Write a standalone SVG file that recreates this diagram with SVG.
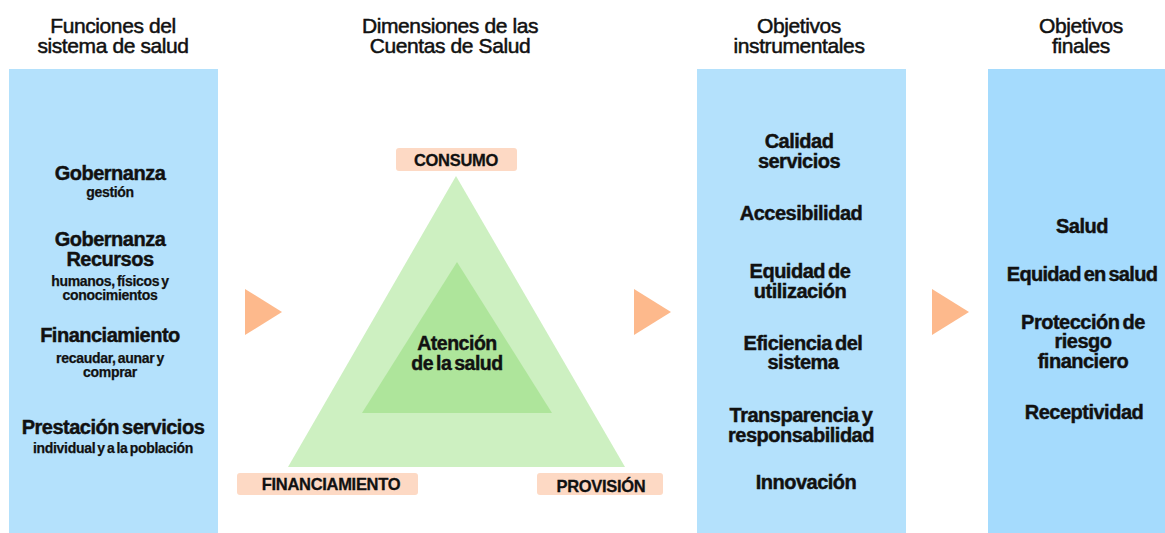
<svg xmlns="http://www.w3.org/2000/svg" width="1165" height="533" viewBox="0 0 1165 533">
<style>
.hd{font-family:"Liberation Sans",Arial,sans-serif;font-size:21px;fill:#111;stroke:#111;stroke-width:0.5;text-anchor:middle;letter-spacing:-0.4px}
.b{font-family:"Liberation Sans",Arial,sans-serif;font-weight:bold;font-size:20px;fill:#111;stroke:#111;stroke-width:0.45;text-anchor:middle;letter-spacing:-0.5px;word-spacing:-2px}
.s{font-family:"Liberation Sans",Arial,sans-serif;font-weight:bold;font-size:14px;fill:#111;stroke:#111;stroke-width:0.25;text-anchor:middle;letter-spacing:-0.3px;word-spacing:-1.5px}
.lb{font-family:"Liberation Sans",Arial,sans-serif;font-weight:bold;font-size:16.5px;fill:#111;stroke:#111;stroke-width:0.3;text-anchor:middle;letter-spacing:-0.3px}
.panel{fill:#b4e1fc}
.panel2{fill:#a5dbfd}
.tag{fill:#fdd9c4}
.arr{fill:#fdb98c}
</style>
<rect width="1165" height="533" fill="#ffffff"/>

<g id="header-funciones">
<text class="hd" x="113" y="33">Funciones del</text>
<text class="hd" x="113" y="53">sistema de salud</text>
</g>
<g id="header-dimensiones">
<text class="hd" x="450" y="33">Dimensiones de las</text>
<text class="hd" x="450" y="53">Cuentas de Salud</text>
</g>
<g id="header-instrumentales">
<text class="hd" x="799" y="33">Objetivos</text>
<text class="hd" x="799" y="53">instrumentales</text>
</g>
<g id="header-finales">
<text class="hd" x="1081" y="33">Objetivos</text>
<text class="hd" x="1081" y="53">finales</text>
</g>

<g id="panel-funciones">
<rect class="panel" x="9" y="69" width="209" height="464"/>
<text class="b" x="110" y="180">Gobernanza</text>
<text class="s" x="110" y="197">gestión</text>
<text class="b" x="110" y="246">Gobernanza</text>
<text class="b" x="110" y="266">Recursos</text>
<text class="s" x="110" y="286">humanos, físicos y</text>
<text class="s" x="110" y="300">conocimientos</text>
<text class="b" x="110" y="342">Financiamiento</text>
<text class="s" x="110" y="363">recaudar, aunar y</text>
<text class="s" x="110" y="377">comprar</text>
<text class="b" x="113" y="434">Prestación servicios</text>
<text class="s" x="113" y="453">individual y a la población</text>
</g>

<g id="triangle-dimensiones">
<polygon points="456,176 288,467 625,467" fill="#cdf0c1"/>
<polygon points="457,262 362,413 552,413" fill="#aee59b"/>
<text class="b" x="457" y="350" style="font-size:19.5px">Atención</text>
<text class="b" x="457" y="370" style="font-size:19.5px">de la salud</text>
</g>
<g id="tag-consumo">
<rect class="tag" x="396" y="148" width="121" height="23" rx="3"/>
<text class="lb" x="456" y="166">CONSUMO</text>
</g>
<g id="tag-financiamiento">
<rect class="tag" x="237" y="473" width="181" height="22" rx="3"/>
<text class="lb" x="331" y="490">FINANCIAMIENTO</text>
</g>
<g id="tag-provision">
<rect class="tag" x="537" y="473" width="126" height="22" rx="3"/>
<text class="lb" x="601" y="492">PROVISIÓN</text>
</g>

<g id="panel-instrumentales">
<rect class="panel" x="697" y="69" width="209" height="464"/>
<text class="b" x="799" y="148">Calidad</text>
<text class="b" x="799" y="168">servicios</text>
<text class="b" x="801" y="220">Accesibilidad</text>
<text class="b" x="800" y="278">Equidad de</text>
<text class="b" x="800" y="298">utilización</text>
<text class="b" x="803" y="350">Eficiencia del</text>
<text class="b" x="803" y="369">sistema</text>
<text class="b" x="801" y="422">Transparencia y</text>
<text class="b" x="801" y="442">responsabilidad</text>
<text class="b" x="806" y="489">Innovación</text>
</g>

<g id="panel-finales">
<rect class="panel2" x="988" y="69" width="177" height="464"/>
<text class="b" x="1082" y="233">Salud</text>
<text class="b" x="1082" y="281" style="letter-spacing:-0.7px">Equidad en salud</text>
<text class="b" x="1083" y="329">Protección de</text>
<text class="b" x="1083" y="348">riesgo</text>
<text class="b" x="1083" y="368">financiero</text>
<text class="b" x="1084" y="419">Receptividad</text>
</g>

<g id="connectors">
<polygon class="arr" points="245,289 282,312 245,335"/>
<polygon class="arr" points="634,289 671,312 634,335"/>
<polygon class="arr" points="932,289 969,312 932,335"/>
</g>
</svg>
